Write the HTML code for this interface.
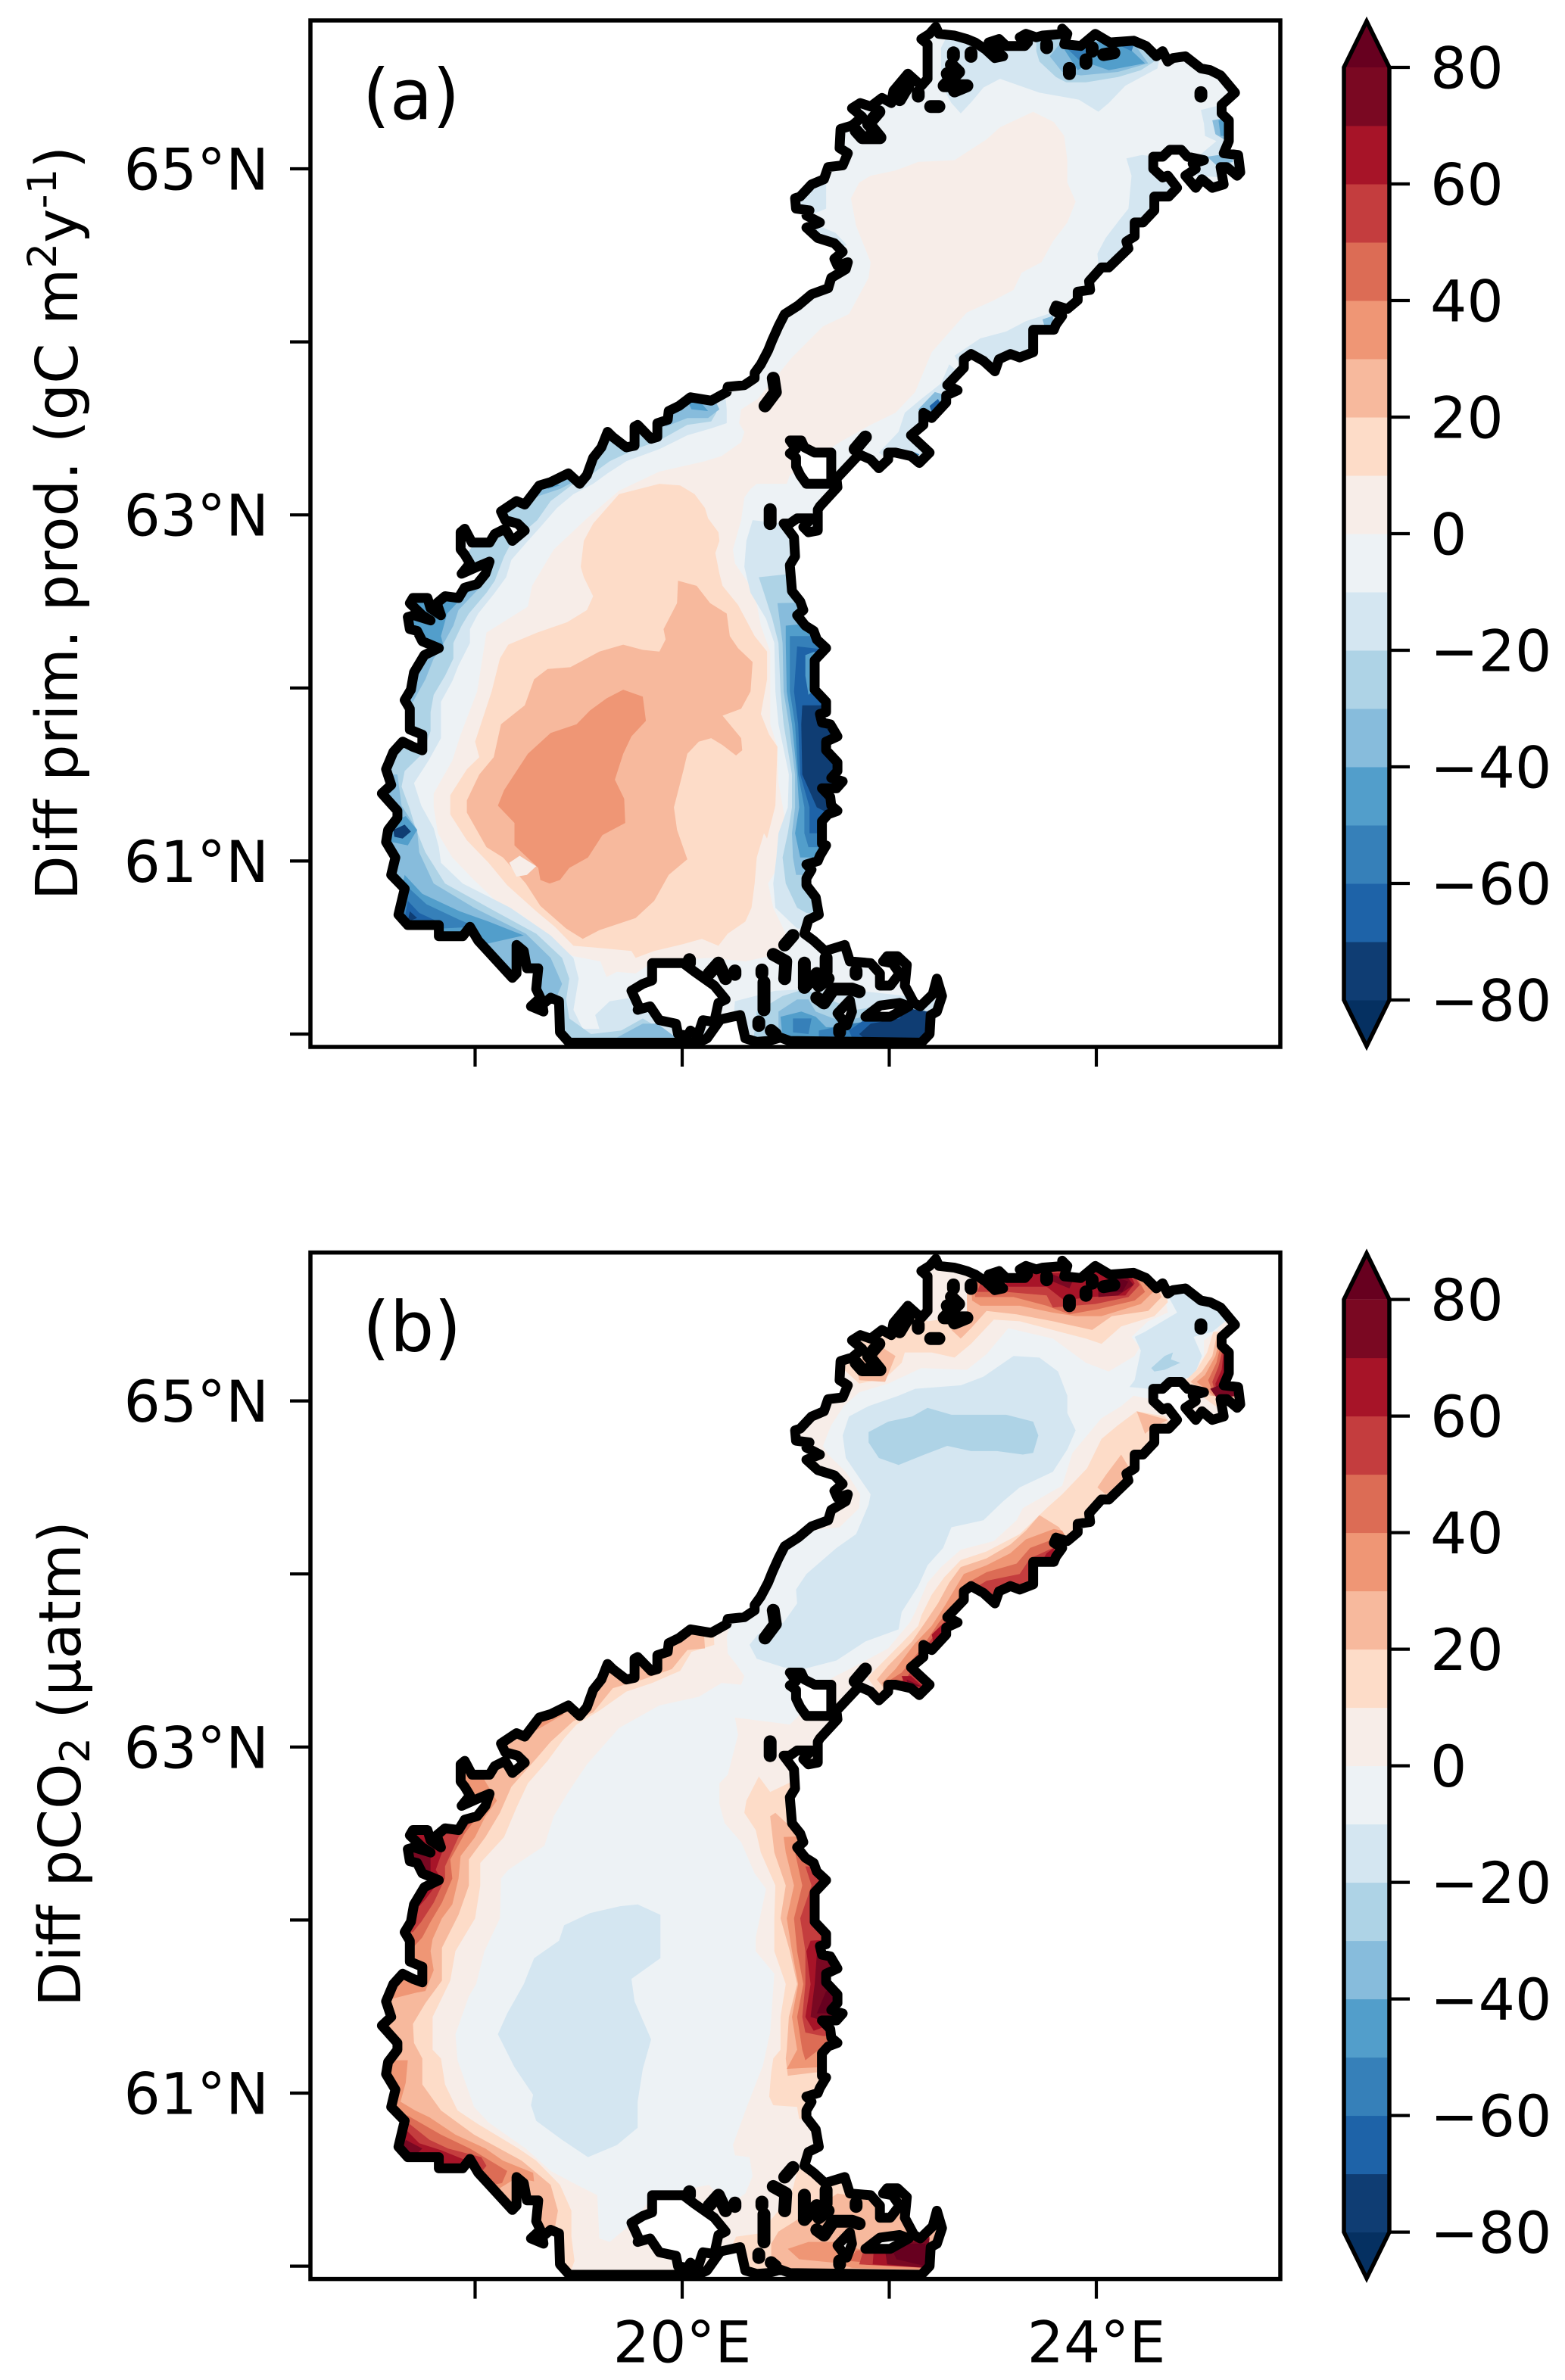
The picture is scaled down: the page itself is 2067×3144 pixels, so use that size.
<!DOCTYPE html>
<html lang="en">
<head>
<meta charset="utf-8">
<title>Diff primary production and pCO2 maps</title>
<style>
html,body{margin:0;padding:0;background:#fff;width:2067px;height:3144px;overflow:hidden}
svg{display:block}
text{font-family:"DejaVu Sans","Liberation Sans",sans-serif;fill:#000}
</style>
</head>
<body>
<svg id="fig" xmlns="http://www.w3.org/2000/svg" width="2067" height="3144" viewBox="0 0 2067 3144">
  <rect width="2067" height="3144" fill="#fff"/>
  <g id="panel-a"></g>
  <g id="panel-b"></g>
  <text x="479" y="157" font-size="92">(a)</text>
  <text x="479" y="1785" font-size="92">(b)</text>
  <text transform="translate(102,691) rotate(-90)" text-anchor="middle" font-size="76.5">Diff prim. prod. (gC m<tspan font-size="53" dy="-28">2</tspan><tspan dy="28">y</tspan><tspan font-size="53" dy="-28">-1</tspan><tspan dy="28">)</tspan></text>
  <text transform="translate(106,2330) rotate(-90)" text-anchor="middle" font-size="77">Diff pCO<tspan font-size="54" dy="12">2</tspan><tspan dy="-12"> (μatm)</tspan></text>
</svg>
<script>
// ---------- scale definitions (values) ----------
const bandLows = [-90,-80,-70,-60,-50,-40,-30,-20,-10,0,10,20,30,40,50,60,70,80];
const bandColours = ['#053061','#0f3d73','#1e63a8','#3680b9','#529ecb','#87bcdc','#aed3e6','#d4e6f1','#edf2f5','#f7ede8','#fddcc8','#f7b99d','#ef9675','#dc6c55','#c43d3e','#a71428','#7a0822','#67001f'];
const colourbarTicks = [80,60,40,20,0,-20,-40,-60,-80];
const colourbarLabels = ['80','60','40','20','0','−20','−40','−60','−80'];
const latTicks = [65,64,63,62,61,60];
const latLabels = ['65°N','','63°N','','61°N',''];
const lonTicks = [18,20,22,24];
const lonLabels = ['','20°E','','24°E'];

// ---------- coastline (lon,lat pairs) ----------
const coast = [22.45,65.82,22.48,65.78,22.63,65.77,22.75,65.75,22.83,65.73,22.93,65.69,23.02,65.64,23.10,65.65,22.96,65.73,23.06,65.75,23.13,65.71,23.31,65.71,23.34,65.73,23.26,65.76,23.32,65.78,23.42,65.76,23.48,65.77,23.69,65.78,23.67,65.81,23.72,65.78,23.69,65.72,23.85,65.71,23.99,65.78,24.13,65.73,24.36,65.74,24.48,65.71,24.58,65.65,24.64,65.68,24.69,65.62,24.74,65.64,24.86,65.65,25.01,65.58,25.10,65.57,25.20,65.54,25.34,65.44,25.21,65.37,25.21,65.32,25.28,65.28,25.28,65.16,25.23,65.09,25.37,65.08,25.39,64.98,25.36,64.96,25.26,65.01,25.20,65.01,25.23,64.91,25.12,64.89,25.02,64.94,24.96,64.89,24.86,64.96,24.96,65.00,24.93,65.03,25.04,65.05,24.88,65.07,24.82,65.11,24.71,65.11,24.64,65.07,24.55,65.07,24.55,65.00,24.64,64.95,24.69,64.96,24.78,64.89,24.70,64.84,24.56,64.84,24.56,64.76,24.45,64.69,24.37,64.69,24.37,64.61,24.29,64.58,24.31,64.54,24.12,64.43,24.05,64.43,23.93,64.35,23.94,64.30,23.82,64.29,23.82,64.24,23.72,64.19,23.61,64.21,23.59,64.18,23.67,64.15,23.61,64.10,23.59,64.07,23.39,64.07,23.39,63.94,23.26,63.91,23.17,63.93,23.06,63.90,23.02,63.83,22.91,63.89,22.79,63.93,22.72,63.90,22.72,63.85,22.56,63.75,22.66,63.72,22.55,63.69,22.55,63.65,22.41,63.56,22.33,63.59,22.33,63.52,22.21,63.46,22.39,63.36,22.29,63.30,22.21,63.34,22.06,63.36,21.99,63.36,21.99,63.32,21.90,63.27,21.82,63.32,21.71,63.35,21.49,63.21,21.50,63.16,21.33,63.05,
21.31,63.03,21.31,62.91,21.22,62.90,21.17,62.93,21.25,62.98,21.11,62.98,21.04,62.95,20.98,62.95,21.08,62.87,21.09,62.76,21.04,62.71,21.06,62.56,21.14,62.50,21.17,62.45,21.11,62.42,21.19,62.36,21.27,62.33,21.30,62.28,21.39,62.23,21.28,62.16,21.28,61.99,21.39,61.92,21.39,61.86,21.33,61.85,21.35,61.80,21.43,61.79,21.50,61.72,21.39,61.69,21.39,61.64,21.50,61.57,21.50,61.52,21.44,61.48,21.55,61.46,21.49,61.42,21.35,61.42,21.43,61.37,21.44,61.32,21.50,61.29,21.41,61.27,21.35,61.23,21.35,61.10,21.39,61.09,21.33,61.03,21.31,61.00,21.20,60.98,21.25,60.95,21.20,60.90,
21.20,60.86,21.29,60.79,21.32,60.69,21.22,60.66,21.18,60.58,21.27,60.54,21.38,60.48,21.57,60.515,21.62,60.42,21.82,60.41,21.91,60.35,21.91,60.28,22.01,60.28,22.10,60.35,22.03,60.41,21.94,60.42,21.98,60.45,22.08,60.45,22.17,60.40,22.15,60.28,22.24,60.18,22.30,60.16,22.42,60.23,22.46,60.32,22.51,60.22,22.46,60.13,22.40,60.11,22.39,60.00,22.31,59.95,21.04,59.96,20.95,59.98,20.83,59.96,20.72,59.955,20.61,59.975,20.56,60.11,20.37,60.085,20.24,59.975,20.15,59.95,18.91,59.95,
18.82,60.01,18.81,60.19,18.73,60.21,18.65,60.17,18.66,60.13,18.54,60.16,18.63,60.21,18.59,60.26,18.61,60.38,18.50,60.38,18.47,60.48,18.40,60.515,18.40,60.35,18.36,60.325,18.03,60.54,17.95,60.62,17.88,60.565,17.65,60.565,17.65,60.63,17.35,60.63,17.26,60.69,17.32,60.84,17.19,60.92,17.23,61.02,17.14,61.11,17.16,61.18,17.25,61.25,17.25,61.29,17.10,61.39,17.19,61.44,17.14,61.53,
17.21,61.63,17.30,61.69,17.40,61.66,17.49,61.64,17.49,61.73,17.37,61.76,17.37,61.88,17.32,61.93,17.38,61.99,17.41,62.09,17.51,62.19,17.65,62.23,17.49,62.27,17.44,62.33,17.37,62.34,17.35,62.41,17.41,62.42,17.57,62.39,17.49,62.42,17.37,62.49,17.40,62.52,17.54,62.52,17.57,62.46,17.67,62.42,17.63,62.49,17.71,62.53,17.84,62.52,17.90,62.58,18.02,62.60,18.10,62.66,18.14,62.73,18.02,62.70,17.87,62.66,17.95,62.72,17.90,62.77,17.86,62.80,17.86,62.90,17.90,62.92,17.97,62.84,18.14,62.84,18.19,62.89,18.29,62.92,18.36,62.85,18.48,62.91,18.41,62.95,18.29,62.97,18.25,63.02,18.40,63.08,18.48,63.06,18.62,63.17,18.73,63.19,18.90,63.24,19.01,63.18,19.08,63.23,19.14,63.33,19.22,63.39,19.28,63.48,19.33,63.45,19.46,63.39,19.54,63.40,19.54,63.51,19.57,63.52,19.70,63.44,19.76,63.45,19.76,63.53,19.86,63.55,19.87,63.60,19.97,63.63,20.08,63.68,20.28,63.66,20.43,63.71,20.44,63.74,20.60,63.75,20.70,63.79,20.70,63.82,
20.76,63.87,20.83,63.95,20.87,64.01,20.93,64.09,20.99,64.16,21.12,64.21,21.25,64.275,21.41,64.31,21.44,64.37,21.58,64.42,21.60,64.46,21.50,64.44,21.47,64.48,21.55,64.52,21.47,64.57,21.31,64.60,21.20,64.66,21.33,64.69,21.20,64.73,21.23,64.76,21.10,64.77,21.09,64.83,21.14,64.84,21.25,64.91,21.37,64.94,21.41,65.01,21.55,65.02,21.60,65.09,21.52,65.12,21.53,65.23,21.64,65.25,21.74,65.30,21.64,65.35,21.72,65.38,21.82,65.36,21.93,65.41,22.02,65.38,22.04,65.45,22.18,65.55,22.31,65.48,22.37,65.52,22.37,65.72,22.31,65.75,22.39,65.78];

// ---------- islands with a white interior ----------
const islandHolmon = [21.04,63.43,21.15,63.43,21.18,63.39,21.28,63.36,21.44,63.36,21.44,63.18,21.20,63.18,21.14,63.23,21.10,63.28,21.10,63.33,21.04,63.355,21.10,63.38];
const islandAland = [19.71,60.41,20.01,60.41,20.12,60.36,20.31,60.28,20.42,60.20,20.35,60.18,20.31,60.07,20.20,60.08,20.15,59.99,20.08,60.02,20.05,59.99,19.96,60.00,19.94,60.06,19.78,60.08,19.69,60.16,19.57,60.14,19.58,60.16,19.51,60.25,19.62,60.29,19.71,60.31];
const islandKimito = [21.77,60.10,21.91,60.165,22.10,60.18,22.19,60.16,22.01,60.10];
const islandHitis = [21.50,60.12,21.62,60.195,21.64,60.13,21.59,60.05];
const ringIslands = [islandHolmon,islandAland,islandKimito,islandHitis];

// ---------- small skerries (open polylines) ----------
const skerries = [
[20.07,60.43,20.07,60.41],[20.26,60.35,20.35,60.41,20.42,60.32],[20.51,60.365,20.51,60.345],[20.77,60.37,20.77,60.35],[20.79,60.30,20.79,60.14],[21.07,60.57,20.99,60.515],[20.88,60.46,21.00,60.42,20.99,60.32],[21.18,60.41,21.18,60.27],[21.18,60.27,21.30,60.35,21.32,60.28,21.41,60.32],[21.39,60.44,21.39,60.36],[21.68,60.365,21.68,60.345],[21.30,60.21,21.37,60.18,21.46,60.26,21.64,60.26,21.71,60.245],[21.52,60.03,21.52,60.01],[20.74,60.07,20.74,60.05],[20.86,60.02,20.90,60.00],
[22.62,65.67,22.62,65.65],[22.79,65.67,22.79,65.65],[22.60,65.60,22.67,65.56,22.53,65.48,22.75,65.48,22.63,65.45,22.56,65.55],[22.40,65.36,22.48,65.36],[23.74,65.58,23.74,65.55],[23.90,65.63,23.90,65.61],[23.96,65.70,23.96,65.68],[24.07,65.66,24.17,65.67],[23.52,65.72,23.52,65.70],[25.01,65.44,25.01,65.42],[21.68,65.22,21.74,65.18,21.91,65.18,21.80,65.26,21.90,65.33],[22.10,65.40,22.18,65.48],[22.28,65.44,22.28,65.42],[20.88,63.79,20.90,63.71,20.80,63.63],[21.77,63.45,21.67,63.38],[20.85,63.03,20.85,62.95]];

// ---------- panel (a) contours: diff primary production ----------
const aPos0 = [23.39,65.33,23.59,65.27,23.69,65.19,23.72,65.05,23.72,64.92,23.80,64.81,23.72,64.69,23.58,64.58,23.47,64.46,23.28,64.40,23.20,64.30,23.01,64.24,22.75,64.17,22.60,64.07,22.41,63.94,22.34,63.84,22.25,63.71,22.06,63.59,21.82,63.52,21.52,63.42,21.04,63.23,21.01,63.18,20.72,63.18,20.66,63.15,20.60,63.10,20.57,62.97,20.49,62.80,20.51,62.72,20.60,62.64,20.70,62.55,20.76,62.36,20.85,62.21,20.85,61.98,20.85,61.79,20.92,61.66,20.93,61.45,21.00,61.22,20.93,60.97,20.83,60.87,20.88,60.73,21.00,60.58,20.95,60.49,20.84,60.45,20.61,60.42,20.26,60.44,19.73,60.42,19.55,60.35,19.37,60.36,19.27,60.33,19.21,60.42,18.95,60.45,18.84,60.48,18.63,60.61,18.42,60.70,18.20,60.77,17.99,60.89,17.78,61.02,17.64,61.16,17.60,61.31,17.60,61.39,17.78,61.58,17.86,61.73,18.02,61.98,18.11,62.32,18.51,62.47,18.55,62.59,18.76,62.80,19.08,62.98,19.39,63.14,19.78,63.25,20.22,63.31,20.38,63.34,20.57,63.42,20.60,63.48,20.55,63.53,20.57,63.61,20.73,63.67,21.06,63.91,21.36,64.09,21.61,64.16,21.80,64.37,21.82,64.46,21.68,64.67,21.63,64.83,21.71,64.92,21.82,64.96,22.06,64.99,22.28,65.04,22.63,65.05,22.94,65.17,23.07,65.24];
const aPos10 = [19.78,63.18,19.98,63.17,20.12,63.12,20.22,63.04,20.25,62.98,20.35,62.90,20.36,62.85,20.32,62.78,20.36,62.66,20.39,62.59,20.54,62.48,20.70,62.30,20.82,62.21,20.82,62.05,20.76,61.85,20.84,61.73,20.92,61.66,20.90,61.32,20.82,61.13,20.79,61.16,20.72,61.02,20.70,60.87,20.67,60.73,20.61,60.65,20.44,60.58,20.35,60.51,20.19,60.55,20.01,60.52,19.73,60.48,19.55,60.44,19.51,60.48,19.16,60.50,18.95,60.51,18.77,60.62,18.59,60.71,18.31,60.86,18.13,60.99,17.92,61.12,17.76,61.27,17.76,61.38,17.92,61.53,18.04,61.60,18.00,61.69,18.16,61.98,18.24,62.17,18.32,62.25,18.60,62.32,18.89,62.38,19.08,62.45,19.14,62.53,19.05,62.64,19.02,62.70,19.05,62.85,19.14,62.95,19.39,63.12];
const aPos20 = [19.96,62.62,20.14,62.59,20.27,62.49,20.43,62.43,20.46,62.30,20.54,62.23,20.68,62.15,20.66,61.98,20.57,61.88,20.39,61.84,20.57,61.71,20.58,61.64,20.52,61.61,20.39,61.67,20.28,61.71,20.16,61.69,20.05,61.62,20.01,61.52,19.92,61.31,19.95,61.18,20.05,61.01,19.87,60.92,19.73,60.77,19.55,60.67,19.20,60.60,19.04,60.55,18.88,60.61,18.63,60.74,18.49,60.87,18.27,61.02,18.11,61.08,17.92,61.28,17.92,61.35,18.04,61.50,18.18,61.60,18.25,61.79,18.48,61.90,18.57,62.05,18.70,62.11,18.92,62.12,19.20,62.21,19.43,62.25,19.62,62.22,19.78,62.21,19.84,62.28,19.82,62.34,19.95,62.49];
const aPos30 = [19.43,61.99,19.62,61.95,19.65,61.81,19.51,61.72,19.43,61.62,19.35,61.47,19.44,61.36,19.45,61.22,19.23,61.15,19.09,61.02,18.91,60.96,18.82,60.89,18.72,60.87,18.63,60.89,18.61,60.96,18.38,61.09,18.38,61.22,18.22,61.32,18.28,61.41,18.51,61.62,18.73,61.74,18.98,61.79,19.11,61.87,19.27,61.94];
const aPaleSpot = [18.33,60.99,18.43,61.03,18.59,60.97,18.50,60.92,18.40,60.91];
const aNeg10North = [22.50,65.49,22.60,65.38,22.69,65.32,22.80,65.39,22.91,65.47,23.07,65.52,23.45,65.44,23.83,65.40,24.02,65.33,24.12,65.38,24.28,65.48,24.59,65.58,24.66,65.79,22.63,65.85,22.50,65.70];
const aNeg10Gulf = [25.01,65.34,25.04,65.26,25.05,65.19,25.16,65.16,24.94,65.05,24.97,64.96,25.48,64.94,25.48,65.41];
const aNeg10Ring = [24.29,65.06,24.34,64.96,24.31,64.77,24.23,64.71,24.09,64.60,24.01,64.51,24.02,64.45,24.28,64.48,24.85,64.82,24.85,65.05,24.44,65.08];
const aNeg10BayOne = [21.39,64.92,21.39,64.77,21.23,64.73,21.04,64.82,21.32,64.96];
const aNeg10BayTwo = [21.32,64.67,21.48,64.63,21.59,64.56,21.45,64.52,21.20,64.62];
const aNeg10EastMid = [22.63,63.92,22.88,64.02,23.13,64.06,23.32,64.12,23.58,64.17,23.74,64.14,23.45,63.95,23.01,63.80,22.69,63.86];
const aNeg10EastLow = [22.58,63.87,22.50,63.76,22.31,63.67,22.15,63.59,22.09,63.48,21.90,63.36,22.06,63.29,22.50,63.35,22.75,63.78];
const aNeg10West = [20.43,63.61,20.43,63.53,20.28,63.50,20.05,63.46,19.78,63.38,19.46,63.31,19.28,63.24,19.14,63.18,18.95,63.12,18.79,63.04,18.63,62.93,18.51,62.85,18.35,62.74,18.30,62.64,18.19,62.55,18.03,62.43,17.95,62.34,17.95,62.26,17.84,62.13,17.78,62.04,17.67,61.92,17.67,61.71,17.55,61.58,17.41,61.45,17.48,61.32,17.60,61.19,17.65,61.08,17.67,60.99,17.88,60.87,18.34,60.73,18.73,60.57,18.95,60.44,19.00,60.32,18.95,60.14,19.04,60.03,19.20,60.03,19.16,60.11,19.30,60.19,19.51,60.21,19.62,60.14,20.26,60.01,20.26,59.91,17.0,59.91,16.9,62,19,63.6,20.4,63.8];
const aNeg10East = [20.68,62.97,20.62,62.85,20.60,62.70,20.66,62.55,20.81,62.40,20.89,62.26,20.90,61.98,20.93,61.79,21.03,61.50,21.02,61.31,20.93,61.16,20.91,61.02,20.88,60.87,20.90,60.73,21.11,60.61,21.7,60.61,21.7,62.9];
const aNeg10Bottom = [20.51,60.19,20.90,60.25,21.25,60.26,21.71,60.25,22.46,60.20,22.46,59.92,20.47,59.92];
const aNeg20North = [23.42,65.68,23.45,65.62,23.61,65.53,23.71,65.50,23.90,65.50,24.21,65.53,24.43,65.57,24.56,65.62,24.31,65.79,23.42,65.79];
const aNeg20West = [20.33,63.59,20.28,63.54,20.05,63.52,19.78,63.43,19.55,63.38,19.30,63.31,19.14,63.24,18.95,63.18,18.73,63.08,18.60,62.97,18.35,62.84,18.28,62.76,18.19,62.62,18.11,62.55,17.94,62.43,17.87,62.36,17.79,62.26,17.79,62.17,17.71,62.07,17.60,61.96,17.57,61.86,17.57,61.75,17.49,61.62,17.32,61.52,17.29,61.43,17.37,61.30,17.43,61.18,17.52,61.05,17.71,60.87,18.13,60.73,18.59,60.58,18.84,60.44,18.91,60.32,18.88,60.20,18.91,60.09,19.12,60.00,19.41,60.02,19.62,60.09,19.87,60.00,20.26,59.94,20.26,59.91,17.0,59.91,16.9,62,19,63.6,20.3,63.8];
const aNeg20East = [20.74,62.64,20.79,62.55,20.87,62.40,20.93,62.26,20.95,61.98,20.98,61.79,21.06,61.50,21.06,61.31,21.02,61.16,20.97,61.02,21.00,60.87,21.11,60.73,21.20,60.70,21.7,60.70,21.7,62.7];
const aNeg20Bottom = [20.72,60.13,20.97,60.22,21.18,60.26,21.46,60.19,21.68,60.14,22.31,60.20,22.46,59.92,20.68,59.92];
const aNeg30North = [23.55,65.65,23.67,65.56,23.85,65.54,24.21,65.56,24.50,65.61,24.31,65.77,23.67,65.74];
const aNeg30GulfEdge = [25.12,65.28,25.15,65.20,25.26,65.16,25.29,65.30];
const aNeg30GulfLow = [25.07,65.07,25.16,65.02,25.32,65.04,25.30,65.09];
const aNeg30CoastOne = [22.28,63.61,22.44,63.71,22.56,63.69,22.37,63.53];
const aNeg30CoastTwo = [23.48,64.13,23.58,64.15,23.59,64.09,23.50,64.09];
const aNeg30CoastThree = [24.29,64.60,24.37,64.62,24.34,64.54,24.26,64.56];
const aNeg30Ne = [19.84,63.51,20.05,63.56,20.25,63.56,20.36,63.61,20.28,63.71,19.84,63.65];
const aNeg30Nw = [18.57,63.10,18.82,63.15,19.01,63.21,18.89,63.29,18.51,63.21];
const aNeg30West = [18.14,62.68,18.03,62.57,17.84,62.45,17.79,62.36,17.68,62.24,17.60,62.17,17.52,62.05,17.40,61.92,17.11,61.92,17.11,62.55,17.71,62.76];
const aNeg30Sw = [17.25,61.50,17.29,61.32,17.44,61.18,17.46,61.05,17.60,60.87,17.99,60.73,18.49,60.58,18.73,60.44,18.84,60.29,18.77,60.19,18.13,60.44,16.9,60.44,16.9,61.5];
const aNeg30Channel = [19.37,59.98,19.62,60.06,19.76,60.06,19.94,59.98];
const aNeg30East = [20.92,62.49,20.97,62.26,20.98,61.98,21.03,61.79,21.09,61.50,21.09,61.31,21.06,61.16,21.07,61.02,21.10,60.92,21.7,60.92,21.7,62.5];
const aNeg30Bottom = [20.93,60.13,21.11,60.20,21.22,60.20,21.29,60.13,21.46,60.09,21.68,60.09,22.21,60.17,22.42,59.92,20.93,59.92];
const aNeg40North = [23.69,65.69,23.82,65.57,23.93,65.61,24.12,65.57,24.47,65.61,24.24,65.74,23.77,65.72];
const aNeg40Gulf = [25.18,65.28,25.20,65.19,25.29,65.19,25.29,65.29];
const aNeg40Ne = [20.09,63.61,20.25,63.60,20.18,63.65,20.05,63.66];
const aNeg40Nw = [18.70,63.15,18.82,63.17,18.73,63.19];
const aNeg40West = [18.02,62.60,17.84,62.50,17.73,62.43,17.67,62.30,17.70,62.23,17.57,62.21,17.33,62.34,17.33,62.55,17.87,62.66];
const aNeg40Spot = [17.33,61.26,17.44,61.18,17.35,61.09,17.19,61.11,17.18,61.22];
const aNeg40Sw = [17.32,60.92,17.49,60.81,17.85,60.71,18.13,60.65,18.47,60.57,18.10,60.52,17.78,60.55,17.21,60.61];
const aNeg40East = [21.00,62.36,21.00,62.26,21.01,61.98,21.06,61.79,21.11,61.50,21.13,61.31,21.09,61.16,21.14,61.02,21.7,61.02,21.7,62.4];
const aNeg40Bottom = [20.95,60.10,21.15,60.13,21.29,60.10,21.39,60.04,21.64,60.04,22.17,60.13,22.39,59.97,20.97,59.98];
const aNeg50North = [23.71,65.70,23.83,65.63,23.93,65.68,23.85,65.72];
const aNeg50NorthTwo = [24.20,65.72,24.34,65.68,24.37,65.73];
const aNeg50Coast = [22.21,63.37,22.29,63.35,22.24,63.32];
const aNeg50Sw = [17.33,60.86,17.53,60.75,17.85,60.66,18.01,60.62,17.67,60.61,17.25,60.64];
const aNeg50East = [21.04,62.30,21.04,61.98,21.09,61.79,21.12,61.50,21.18,61.31,21.18,61.16,21.22,61.08,21.7,61.08,21.7,62.3];
const aNeg50BottomOne = [21.07,60.09,21.25,60.09,21.22,60.00,21.07,60.01];
const aNeg50BottomTwo = [21.32,60.02,21.64,60.06,22.17,60.11,22.35,59.97,21.32,59.98];
const aNeg60Coast = [22.39,63.63,22.47,63.67,22.50,63.64,22.41,63.59];
const aNeg60Spot = [17.21,61.18,17.32,61.21,17.38,61.17,17.30,61.13,17.22,61.14];
const aNeg60Sw = [17.35,60.77,17.46,60.70,17.64,60.65,17.42,60.64,17.32,60.67];
const aNeg60East = [21.11,62.24,21.08,61.98,21.12,61.79,21.14,61.50,21.23,61.31,21.23,61.16,21.7,61.16,21.7,62.2];
const aNeg60Bottom = [21.61,60.02,21.78,60.09,22.17,60.11,22.35,59.97,21.64,59.98];
const aNeg70Sw = [17.37,60.71,17.44,60.67,17.35,60.65];
const aNeg70East = [21.16,61.90,21.15,61.79,21.16,61.50,21.30,61.31,21.5,61.25,21.7,61.5,21.7,61.9];
const aNeg70Bottom = [21.71,60.00,21.82,60.06,22.10,60.09,22.17,60.15,22.37,60.13,22.35,59.97,21.75,59.98];
const aNeg40CoastRebound = [21.19,62.19,21.28,62.21,21.30,62.00,21.22,61.96,21.19,62.07];

const panelALayers = [
[0,aPos0],[10,aPos10],[20,aPos20],[30,aPos30],[0,aPaleSpot],
[-20,aNeg10North],[-20,aNeg10Gulf],[-20,aNeg10Ring],[-20,aNeg10BayOne],[-20,aNeg10BayTwo],[-20,aNeg10EastMid],[-20,aNeg10EastLow],[-20,aNeg10West],[-20,aNeg10East],[-20,aNeg10Bottom],
[-30,aNeg20North],[-30,aNeg20West],[-30,aNeg20East],[-30,aNeg20Bottom],
[-40,aNeg30North],[-40,aNeg30GulfEdge],[-40,aNeg30GulfLow],[-40,aNeg30CoastOne],[-40,aNeg30CoastTwo],[-40,aNeg30CoastThree],[-40,aNeg30Ne],[-40,aNeg30Nw],[-40,aNeg30West],[-40,aNeg30Sw],[-40,aNeg30Channel],[-40,aNeg30East],[-40,aNeg30Bottom],
[-50,aNeg40North],[-50,aNeg40Gulf],[-50,aNeg40Ne],[-50,aNeg40Nw],[-50,aNeg40West],[-50,aNeg40Spot],[-50,aNeg40Sw],[-50,aNeg40East],[-50,aNeg40Bottom],
[-60,aNeg50North],[-60,aNeg50NorthTwo],[-60,aNeg50Coast],[-60,aNeg50Sw],[-60,aNeg50East],[-60,aNeg50BottomOne],[-60,aNeg50BottomTwo],
[-70,aNeg60Coast],[-70,aNeg60Sw],[-70,aNeg60East],[-70,aNeg60Bottom],
[-80,aNeg60Spot],[-80,aNeg70Sw],[-80,aNeg70East],[-80,aNeg70Bottom],[-50,aNeg40CoastRebound]];

// ---------- panel (b) contours: diff pCO2 ----------
const bNeg0 = [23.15,65.42,23.58,65.36,23.90,65.22,24.12,65.17,24.37,65.26,24.42,65.31,24.34,65.37,24.50,65.46,24.69,65.51,24.66,65.61,24.78,65.65,25.26,65.54,25.17,65.41,25.04,65.35,25.04,65.26,24.94,65.18,24.72,65.13,24.53,65.08,24.53,65.01,24.36,65.03,24.24,64.97,24.05,64.90,23.77,64.70,23.67,64.51,23.29,64.38,23.23,64.31,23.01,64.19,22.69,64.14,22.50,64.04,22.37,63.95,22.25,63.78,22.20,63.72,21.99,63.57,21.68,63.47,21.45,63.40,21.26,63.26,21.04,63.13,20.51,63.17,20.54,63.07,20.44,62.84,20.36,62.79,20.36,62.67,20.41,62.56,20.57,62.45,20.70,62.27,20.81,62.18,20.71,61.90,20.71,61.82,20.82,61.74,20.89,61.69,20.85,61.35,20.78,61.16,20.63,60.93,20.49,60.70,20.51,60.64,20.65,60.63,20.68,60.52,20.61,60.42,20.44,60.35,20.26,60.47,19.73,60.41,19.51,60.25,19.44,60.21,19.30,60.14,19.20,60.16,19.18,60.41,18.95,60.48,18.73,60.55,18.49,60.68,18.13,60.83,17.99,60.92,17.83,61.19,17.81,61.34,17.94,61.56,18.01,61.63,18.09,61.82,18.24,62.01,18.25,62.24,18.32,62.29,18.67,62.43,18.76,62.60,18.89,62.73,19.08,62.90,19.39,63.11,19.78,63.24,20.16,63.29,20.38,63.37,20.57,63.36,20.60,63.41,20.52,63.48,20.44,63.54,20.43,63.64,20.53,63.83,20.88,64.12,21.04,64.25,21.25,64.25,21.52,64.27,21.71,64.38,21.72,64.46,21.58,64.59,21.41,64.69,21.36,64.74,21.44,64.86,21.56,64.97,21.71,65.05,21.99,65.10,22.31,65.19,22.75,65.18,22.94,65.27];
const bNeg10North = [23.20,65.26,23.45,65.25,23.63,65.17,23.72,65.03,23.72,64.93,23.80,64.83,23.72,64.72,23.58,64.59,23.26,64.50,23.10,64.42,22.91,64.31,22.60,64.27,22.52,64.15,22.37,64.05,22.28,63.93,22.12,63.78,22.09,63.68,21.77,63.61,21.49,63.50,21.17,63.45,20.98,63.46,20.72,63.51,20.65,63.59,20.73,63.65,20.98,63.72,21.11,63.83,21.10,63.91,21.20,64.00,21.49,64.15,21.68,64.23,21.80,64.40,21.82,64.46,21.58,64.67,21.55,64.80,21.61,64.91,21.80,64.97,22.09,65.03,22.25,65.07,22.69,65.09,22.91,65.14];
const bNeg10Ne = [24.69,65.61,24.78,65.51,24.47,65.40,24.37,65.37,24.43,65.29,24.37,65.12,24.32,65.08,24.51,65.07,24.69,65.11,24.94,65.14,25.02,65.26,24.94,65.37,25.12,65.40,25.29,65.48,25.10,65.60,24.82,65.65];
const bNeg10South = [19.57,62.09,19.79,62.03,19.79,61.91,19.79,61.78,19.51,61.66,19.54,61.53,19.70,61.31,19.62,61.14,19.57,60.95,19.57,60.80,19.37,60.70,19.09,60.63,18.84,60.73,18.59,60.84,18.54,60.93,18.56,60.99,18.38,61.15,18.22,61.34,18.31,61.46,18.47,61.63,18.57,61.78,18.81,61.88,18.86,61.97,19.11,62.04,19.40,62.08];
const bNeg20Core = [22.37,64.96,22.60,64.92,22.75,64.92,23.13,64.92,23.39,64.88,23.44,64.80,23.39,64.70,23.29,64.69,23.04,64.71,22.79,64.71,22.56,64.74,22.34,64.69,22.09,64.63,21.90,64.67,21.80,64.76,21.80,64.82,21.99,64.88,22.22,64.91];
const bNeg20Ne = [24.53,65.19,24.66,65.26,24.74,65.28,24.72,65.24,24.81,65.22,24.66,65.18,24.56,65.17];
const bPos10North = [21.71,65.10,21.96,65.13,22.12,65.22,22.15,65.28,22.41,65.28,22.63,65.25,22.79,65.33,23.01,65.47,23.26,65.46,23.58,65.41,23.90,65.36,24.05,65.33,24.24,65.43,24.56,65.49,24.69,65.57,24.66,65.69,22.94,65.84,22.75,65.67,22.75,65.49,22.37,65.46,22.15,65.58,21.49,65.22];
const bPos10East = [24.66,64.91,24.39,64.94,24.21,64.86,24.05,64.78,23.91,64.61,23.67,64.46,23.52,64.38,23.26,64.23,22.94,64.13,22.69,64.08,22.53,63.98,22.41,63.88,22.31,63.76,22.28,63.70,22.12,63.60,21.87,63.45,21.79,63.40,21.96,63.26,22.94,63.45,24.85,64.78];
const bPos10Gulf = [25.13,65.40,25.07,65.28,24.97,65.18,24.85,65.11,24.97,65.05,25.08,65.00,25.15,64.97,25.5,64.9,25.5,65.4];
const bPos10West = [20.31,63.59,20.09,63.55,19.98,63.44,19.71,63.37,19.46,63.32,19.20,63.21,18.98,63.13,18.86,63.05,18.70,62.92,18.51,62.79,18.40,62.65,18.28,62.48,18.05,62.33,18.05,62.20,18.00,62.01,17.81,61.82,17.76,61.65,17.59,61.44,17.59,61.25,17.67,61.20,17.71,61.05,17.83,60.90,18.03,60.82,18.42,60.68,18.59,60.61,18.82,60.47,18.93,60.32,18.93,60.17,18.96,60.03,18.91,59.95,18.3,59.9,16.9,60.5,16.9,62,19,63.7,20.3,63.75];
const bPos10EastSouth = [20.85,62.74,20.74,62.83,20.62,62.69,20.60,62.62,20.71,62.52,20.76,62.39,20.90,62.20,20.89,62.01,20.89,61.82,21.00,61.63,20.95,61.44,20.95,61.25,20.88,61.20,20.86,61.12,20.84,60.98,20.88,60.93,21.11,60.92,21.13,60.85,21.7,60.85,21.7,62.6,21.06,62.80];
const bPos10Bottom = [21.11,60.55,21.07,60.45,20.97,60.35,20.75,60.19,20.52,60.17,20.44,60.06,20.47,59.94,22.46,59.94,22.46,60.32,22.03,60.48,21.32,60.61];
const bPos20NorthBand = [22.60,65.41,22.69,65.36,22.79,65.42,22.94,65.52,23.23,65.50,23.58,65.46,23.96,65.41,24.15,65.49,24.50,65.52,24.63,65.60,24.56,65.69,22.94,65.84,22.75,65.67,22.75,65.50];
const bPos20NorthWest = [21.71,65.12,21.96,65.11,22.06,65.26,21.93,65.31,21.68,65.22];
const bPos20Upper = [24.01,64.50,24.09,64.57,24.24,64.69,24.32,64.61,24.31,64.53,24.09,64.46];
const bPos20Cape = [24.39,64.94,24.69,64.89,24.53,64.84,24.47,64.81];
const bPos20East = [23.64,64.27,23.45,64.34,23.32,64.25,23.17,64.17,22.94,64.09,22.69,64.04,22.58,63.95,22.47,63.83,22.37,63.74,22.22,63.61,21.99,63.47,21.88,63.39,22.06,63.26,22.94,63.45,23.90,64.02];
const bPos20Gulf = [25.16,65.37,25.12,65.26,25.02,65.17,24.91,65.11,25.10,65.03,25.48,65.01,25.48,65.37];
const bPos20West = [20.22,63.57,20.05,63.56,19.90,63.45,19.62,63.39,19.33,63.34,19.14,63.20,18.95,63.15,18.73,63.03,18.60,62.94,18.35,62.77,18.24,62.62,18.10,62.48,17.94,62.35,17.94,62.20,17.84,62.03,17.68,61.84,17.68,61.65,17.52,61.52,17.40,61.40,17.41,61.29,17.49,61.20,17.49,61.05,17.67,60.90,17.99,60.76,18.45,60.61,18.59,60.54,18.73,60.47,18.80,60.32,18.77,60.22,18.0,60.2,16.9,60.5,16.9,62,19,63.6,20.2,63.75];
const bPos20EastSouth = [20.85,62.60,20.89,62.39,21.00,62.20,20.95,62.01,21.04,61.82,21.11,61.63,21.03,61.44,21.01,61.25,21.00,61.20,21.02,61.10,21.29,61.12,21.7,61.12,21.7,62.5,21.08,62.52,20.90,62.62];
const bPos20Bottom = [21.50,60.42,21.25,60.32,20.93,60.20,20.86,60.13,20.86,60.04,21.00,59.98,22.46,59.97,22.46,60.23,21.85,60.39];
const bPos30North = [22.80,65.58,22.88,65.55,23.26,65.55,23.58,65.51,23.80,65.49,24.05,65.49,24.43,65.56,24.55,65.63,24.50,65.73,22.94,65.80,22.79,65.67];
const bPos30East = [23.67,64.25,23.59,64.26,23.32,64.20,23.17,64.12,22.94,64.05,22.72,64.00,22.63,63.91,22.53,63.81,22.41,63.70,22.25,63.60,22.06,63.45,21.93,63.37,22.06,63.26,22.94,63.45,23.90,64.02];
const bPos30Gulf = [25.18,65.33,25.15,65.26,25.05,65.15,24.97,65.11,25.13,65.03,25.48,65.03,25.48,65.33];
const bPos30Nw = [18.57,63.09,18.86,63.19,18.70,63.20];
const bPos30West = [18.21,62.69,18.10,62.60,18.00,62.48,17.86,62.37,17.84,62.24,17.78,62.09,17.68,62.01,17.59,61.89,17.57,61.82,17.60,61.71,17.52,61.59,17.43,61.58,16.9,61.5,16.9,62.6,18,62.9];
const bPos30Patch = [17.21,61.19,17.35,61.19,17.33,61.06,17.27,60.93,17.08,60.95,17.08,61.19];
const bPos30Sw = [17.28,60.95,17.42,60.90,17.56,60.86,17.81,60.76,18.10,60.68,18.27,60.61,18.56,60.54,18.57,60.49,18.40,60.51,18.1,60.4,16.9,60.5,16.9,60.95];
const bPos30EastSouth = [20.98,62.48,21.00,62.39,21.08,62.20,21.01,62.01,21.06,61.82,21.12,61.63,21.06,61.44,21.11,61.25,21.01,61.14,21.33,61.15,21.7,61.15,21.7,62.5];
const bPos30Bottom = [21.22,60.14,21.02,60.10,21.13,60.04,21.46,60.02,21.64,59.99,22.35,59.98,22.39,60.17,21.75,60.09,21.50,60.14];
const bPos40North = [22.83,65.60,23.20,65.60,23.52,65.55,23.74,65.50,24.02,65.53,24.37,65.58,24.47,65.63,24.37,65.74,22.94,65.79,22.82,65.67];
const bPos40East = [23.58,64.20,23.36,64.15,23.23,64.06,22.94,64.01,22.79,63.96,22.63,63.83,22.48,63.72,22.31,63.57,22.12,63.43,21.99,63.38,22.06,63.26,22.94,63.45,23.90,64.02];
const bPos40Gulf = [25.20,65.32,25.16,65.22,25.08,65.12,25.13,65.04,25.48,65.03,25.48,65.33];
const bPos40West = [18.05,62.62,17.90,62.50,17.76,62.35,17.78,62.24,17.68,62.10,17.57,61.99,17.49,61.90,17.40,61.84,16.9,61.8,16.9,62.6,17.8,62.75];
const bPos40Sw = [17.35,60.87,17.67,60.76,17.95,60.68,18.31,60.55,18.26,60.48,18,60.45,16.9,60.5,16.9,60.87];
const bPos40EastSouth = [21.09,62.39,21.16,62.20,21.08,62.01,21.11,61.82,21.17,61.63,21.11,61.44,21.16,61.25,21.19,61.19,21.36,61.27,21.7,61.27,21.7,62.4];
const bPos40Bottom = [21.61,60.03,21.68,60.09,22.35,60.13,22.35,59.99];
const bPos50North = [22.85,65.63,23.13,65.63,23.52,65.61,23.58,65.54,23.99,65.56,24.31,65.60,24.42,65.67,24.34,65.75,22.94,65.78];
const bPos50East = [23.58,64.15,23.36,64.09,23.26,64.00,22.94,63.96,22.75,63.89,22.53,63.72,22.34,63.57,22.18,63.41,22.09,63.37,22.21,63.26,22.94,63.45,23.90,64.02];
const bPos50Gulf = [25.23,65.32,25.18,65.20,25.12,65.11,25.15,65.04,25.48,65.03,25.48,65.32];
const bPos50West = [18.00,62.60,17.84,62.48,17.71,62.31,17.71,62.24,17.60,62.10,17.48,61.99,17.40,61.93,16.9,61.9,16.9,62.6,17.8,62.7];
const bPos50Sw = [17.35,60.83,17.56,60.73,17.74,60.68,18.06,60.63,18.11,60.58,18,60.5,16.9,60.5,16.9,60.83];
const bPos50EastSouth = [21.19,62.31,21.25,62.20,21.14,62.01,21.19,61.82,21.19,61.63,21.16,61.44,21.19,61.35,21.36,61.33,21.7,61.33,21.7,62.3];
const bPos50Bottom = [21.71,60.01,21.75,60.09,22.35,60.15,22.35,59.99];
const bPos60North = [23.13,65.66,23.52,65.66,23.69,65.58,23.93,65.60,24.28,65.61,24.37,65.68,24.31,65.75,23.13,65.73];
const bPos60CoastOne = [22.41,63.65,22.53,63.72,22.63,63.69,22.44,63.57];
const bPos60CoastTwo = [22.12,63.41,22.21,63.41,22.34,63.34,22.15,63.36];
const bPos60CoastThree = [23.52,64.12,23.59,64.15,23.59,64.08,23.48,64.08];
const bPos60Gulf = [25.23,65.29,25.21,65.18,25.15,65.10,25.16,65.04,25.48,65.03,25.48,65.29];
const bPos60West = [17.71,62.44,17.62,62.29,17.67,62.24,17.52,62.12,17.46,62.08,16.9,62.05,16.9,62.5,17.6,62.6];
const bPos60Sw = [17.33,60.79,17.46,60.71,17.67,60.67,17.92,60.61,17.9,60.5,16.9,60.5,16.9,60.8];
const bPos60EastSouth = [21.24,61.88,21.20,61.82,21.24,61.63,21.19,61.44,21.27,61.36,21.36,61.38,21.7,61.4,21.7,61.9];
const bPos60Bottom = [21.84,60.01,21.85,60.09,22.14,60.15,22.39,60.17,22.35,59.99];
const bPos70North = [24.02,65.60,24.21,65.61,24.36,65.67,24.28,65.73,24.02,65.67];
const bPos70NorthTwo = [23.58,65.69,23.74,65.65,23.77,65.69,23.58,65.73];
const bPos70Coast = [22.17,63.39,22.31,63.35,22.17,63.36];
const bPos70Gulf = [25.10,65.07,25.23,65.10,25.42,65.08,25.42,65.03,25.16,65.02];
const bPos70West = [17.57,62.41,17.57,62.27,17.65,62.24,17.52,62.26,17.40,62.35,17.40,62.43];
const bPos70Sw = [17.33,60.73,17.49,60.68,17.42,60.64,17.28,60.67];
const bPos70EastSouth = [21.30,61.80,21.28,61.63,21.24,61.44,21.35,61.42,21.7,61.45,21.7,61.8];
const bPos70Bottom = [21.98,60.01,21.96,60.09,22.14,60.13,22.39,60.16,22.35,59.99];
const bPos80North = [24.09,65.63,24.25,65.63,24.31,65.69,24.21,65.71];
const bPos80East = [21.39,61.59,21.30,61.46,21.43,61.46,21.52,61.57];
const bPos80Bottom = [22.07,60.04,22.03,60.09,22.17,60.13,22.35,60.13,22.35,60.00];

const panelBLayers = [
[-10,bNeg0],[-20,bNeg10North],[-20,bNeg10Ne],[-20,bNeg10South],[-30,bNeg20Core],[-30,bNeg20Ne],
[10,bPos10North],[10,bPos10East],[10,bPos10Gulf],[10,bPos10West],[10,bPos10EastSouth],[10,bPos10Bottom],
[20,bPos20NorthBand],[20,bPos20NorthWest],[20,bPos20Upper],[20,bPos20Cape],[20,bPos20East],[20,bPos20Gulf],[20,bPos20West],[20,bPos20EastSouth],[20,bPos20Bottom],
[30,bPos30North],[30,bPos30East],[30,bPos30Gulf],[30,bPos30Nw],[30,bPos30West],[30,bPos30Patch],[30,bPos30Sw],[30,bPos30EastSouth],[30,bPos30Bottom],
[40,bPos40North],[40,bPos40East],[40,bPos40Gulf],[40,bPos40West],[40,bPos40Sw],[40,bPos40EastSouth],[40,bPos40Bottom],
[50,bPos50North],[50,bPos50East],[50,bPos50Gulf],[50,bPos50West],[50,bPos50Sw],[50,bPos50EastSouth],[50,bPos50Bottom],
[60,bPos60North],[60,bPos60CoastOne],[60,bPos60CoastTwo],[60,bPos60CoastThree],[60,bPos60Gulf],[60,bPos60West],[60,bPos60Sw],[60,bPos60EastSouth],[60,bPos60Bottom],
[70,bPos70North],[70,bPos70NorthTwo],[70,bPos70Coast],[70,bPos70Gulf],[70,bPos70West],[70,bPos70Sw],[70,bPos70EastSouth],[70,bPos70Bottom],
[80,bPos80North],[80,bPos80East],[80,bPos80Bottom]];

// ---------- axis functions ----------
const NS = 'http://www.w3.org/2000/svg';
const xOf = lon => 901 + (lon - 20) * 136.75;
const yOf = (lat, off) => 223 + off + (65 - lat) * 228.6;
const cbY = (v, off) => 89 + off + (80 - v) * 7.7;
const bandColour = low => bandColours[bandLows.indexOf(low)];

function mk(parent, tag, attrs) {
  const el = document.createElementNS(NS, tag);
  for (const k in attrs) el.setAttribute(k, attrs[k]);
  parent.appendChild(el);
  return el;
}
function pathOf(arr, off, closed) {
  let d = '';
  for (let i = 0; i < arr.length; i += 2) {
    d += (i ? 'L' : 'M') + xOf(arr[i]).toFixed(1) + ' ' + yOf(arr[i + 1], off).toFixed(1);
  }
  return d + (closed ? 'Z' : '');
}

function drawPanel(group, key, off, baseLow, layers, showLonLabels) {
  const defs = mk(group, 'defs', {});
  const clip = mk(defs, 'clipPath', {id: 'sea-' + key});
  mk(clip, 'path', {d: pathOf(coast, off, true)});
  const axClip = mk(defs, 'clipPath', {id: 'ax-' + key});
  mk(axClip, 'rect', {x: 410, y: 27 + off, width: 1281, height: 1356});

  const field = mk(group, 'g', {'clip-path': 'url(#sea-' + key + ')'});
  
  
  const base = mk(field, 'path', {d: pathOf(coast, off, true), fill: bandColour(baseLow)});
  
  
  layers.forEach(layer => {
    const p = mk(field, 'path', {d: pathOf(layer[1], off, true), fill: bandColour(layer[0])});
    
    
  });

  const land = mk(group, 'g', {'clip-path': 'url(#ax-' + key + ')', 'stroke': '#000', 'stroke-linejoin': 'round', 'stroke-linecap': 'round'});
  
  
  ringIslands.forEach(r => {
    const p = mk(land, 'path', {d: pathOf(r, off, true), fill: '#fff', 'stroke-width': 13});
    
    
  });
  const c = mk(land, 'path', {d: pathOf(coast, off, true), fill: 'none', 'stroke-width': 13});
  
  
  skerries.forEach(s => {
    const p = mk(land, 'path', {d: pathOf(s, off, false), fill: 'none', 'stroke-width': 17});
    
    
  });

  const frame = mk(group, 'rect', {x: 410, y: 27 + off, width: 1281, height: 1356, fill: 'none', stroke: '#000', 'stroke-width': 5.5});
  
  

  latTicks.forEach((lat, i) => {
    const y = yOf(lat, off);
    const t = mk(group, 'line', {x1: 383, x2: 408, y1: y, y2: y, stroke: '#000', 'stroke-width': 4.2});
    
    
    if (latLabels[i]) {
      const l = mk(group, 'text', {x: 355, y: y + 27.5, 'text-anchor': 'end', 'font-size': 76});
      l.textContent = latLabels[i];
      
      
    }
  });
  lonTicks.forEach((lon, i) => {
    const x = xOf(lon);
    const t = mk(group, 'line', {x1: x, x2: x, y1: 1383 + off, y2: 1409 + off, stroke: '#000', 'stroke-width': 4.2});
    
    
    if (showLonLabels && lonLabels[i]) {
      const l = mk(group, 'text', {x: x, y: 1493 + off, 'text-anchor': 'middle', 'font-size': 76});
      l.textContent = lonLabels[i];
      
      
    }
  });

  // colourbar
  const cb = mk(group, 'g', {});
  
  
  const L = 1775, R = 1835, M = 1805;
  const topY = cbY(80, off), botY = cbY(-80, off);
  const hi = mk(cb, 'polygon', {points: L + ',' + topY + ' ' + M + ',' + (off + 28) + ' ' + R + ',' + topY, fill: bandColour(80)});
  
  
  const lo = mk(cb, 'polygon', {points: L + ',' + botY + ' ' + M + ',' + (off + 1382) + ' ' + R + ',' + botY, fill: bandColour(-90)});
  
  
  bandLows.forEach(low => {
    if (low < -80 || low > 70) return;
    const r = mk(cb, 'rect', {x: L, width: R - L, y: cbY(low + 10, off), height: cbY(low, off) - cbY(low + 10, off) + 0.5, fill: bandColour(low)});
    
    
  });
  const outline = mk(cb, 'polygon', {points: L + ',' + topY + ' ' + M + ',' + (off + 28) + ' ' + R + ',' + topY + ' ' + R + ',' + botY + ' ' + M + ',' + (off + 1382) + ' ' + L + ',' + botY, fill: 'none', stroke: '#000', 'stroke-width': 5.5, 'stroke-linejoin': 'miter'});
  
  
  colourbarTicks.forEach((v, i) => {
    const y = cbY(v, off);
    const t = mk(cb, 'line', {x1: 1837, x2: 1862, y1: y, y2: y, stroke: '#000', 'stroke-width': 4.2});
    
    
    const l = mk(cb, 'text', {x: 1889, y: y + 27.5, 'font-size': 76});
    l.textContent = colourbarLabels[i];
    
    
  });
}

drawPanel(document.getElementById('panel-a'), 'a', 0, -10, panelALayers, false);
drawPanel(document.getElementById('panel-b'), 'b', 1627.6, 0, panelBLayers, true);
</script>
</body>
</html>
